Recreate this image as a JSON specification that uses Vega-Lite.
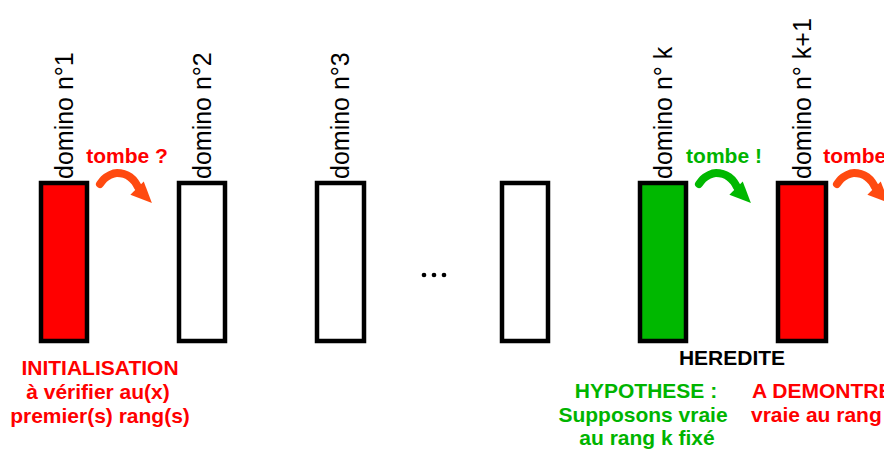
{
  "$schema": "https://vega.github.io/schema/vega-lite/v6.json",
  "width": 884,
  "height": 450,
  "padding": 0,
  "autosize": {"type": "none"},
  "background": "white",
  "config": {"view": {"stroke": null}, "font": "Liberation Sans"},
  "datasets": {
    "dominos": [
      {"nom": "domino n°1", "x0": 41, "x1": 87, "centre": 65, "statut": "initialisation"},
      {"nom": "domino n°2", "x0": 179, "x1": 225, "centre": 203, "statut": "neutre"},
      {"nom": "domino n°3", "x0": 317, "x1": 364, "centre": 341, "statut": "neutre"},
      {"nom": "", "x0": 502, "x1": 548, "centre": 525, "statut": "neutre"},
      {"nom": "domino n° k", "x0": 640, "x1": 686, "centre": 664, "statut": "hypothese"},
      {"nom": "domino n° k+1", "x0": 778, "x1": 826, "centre": 803, "statut": "a_demontrer"}
    ],
    "fleches": [
      {"fleche": 1, "ordre": 1, "x": 100, "y": 184, "etat": "inconnu"},
      {"fleche": 1, "ordre": 2, "x": 104, "y": 179, "etat": "inconnu"},
      {"fleche": 1, "ordre": 3, "x": 110, "y": 175, "etat": "inconnu"},
      {"fleche": 1, "ordre": 4, "x": 117, "y": 173, "etat": "inconnu"},
      {"fleche": 1, "ordre": 5, "x": 124, "y": 174, "etat": "inconnu"},
      {"fleche": 1, "ordre": 6, "x": 130, "y": 177, "etat": "inconnu"},
      {"fleche": 1, "ordre": 7, "x": 135, "y": 182, "etat": "inconnu"},
      {"fleche": 1, "ordre": 8, "x": 138, "y": 187, "etat": "inconnu"},
      {"fleche": 2, "ordre": 1, "x": 699, "y": 184, "etat": "tombe"},
      {"fleche": 2, "ordre": 2, "x": 703, "y": 179, "etat": "tombe"},
      {"fleche": 2, "ordre": 3, "x": 709, "y": 175, "etat": "tombe"},
      {"fleche": 2, "ordre": 4, "x": 716, "y": 173, "etat": "tombe"},
      {"fleche": 2, "ordre": 5, "x": 723, "y": 174, "etat": "tombe"},
      {"fleche": 2, "ordre": 6, "x": 729, "y": 177, "etat": "tombe"},
      {"fleche": 2, "ordre": 7, "x": 734, "y": 182, "etat": "tombe"},
      {"fleche": 2, "ordre": 8, "x": 737, "y": 187, "etat": "tombe"},
      {"fleche": 3, "ordre": 1, "x": 837, "y": 184, "etat": "inconnu"},
      {"fleche": 3, "ordre": 2, "x": 841, "y": 179, "etat": "inconnu"},
      {"fleche": 3, "ordre": 3, "x": 847, "y": 175, "etat": "inconnu"},
      {"fleche": 3, "ordre": 4, "x": 854, "y": 173, "etat": "inconnu"},
      {"fleche": 3, "ordre": 5, "x": 861, "y": 174, "etat": "inconnu"},
      {"fleche": 3, "ordre": 6, "x": 867, "y": 177, "etat": "inconnu"},
      {"fleche": 3, "ordre": 7, "x": 872, "y": 182, "etat": "inconnu"},
      {"fleche": 3, "ordre": 8, "x": 875, "y": 187, "etat": "inconnu"}
    ],
    "pointes": [
      {"fleche": 1, "x": 144.5, "y": 195.5, "etat": "inconnu"},
      {"fleche": 2, "x": 743.5, "y": 195.5, "etat": "tombe"},
      {"fleche": 3, "x": 881.5, "y": 195.5, "etat": "inconnu"}
    ],
    "chutes": [
      {"texte": "tombe ?", "x": 127, "etat": "inconnu"},
      {"texte": "tombe !", "x": 724, "etat": "tombe"},
      {"texte": "tombe ?", "x": 864, "etat": "inconnu"}
    ],
    "legendes": [
      {"texte": "INITIALISATION", "x": 100, "y": 375, "groupe": "initialisation"},
      {"texte": "à vérifier au(x)", "x": 98, "y": 399, "groupe": "initialisation"},
      {"texte": "premier(s) rang(s)", "x": 100, "y": 423, "groupe": "initialisation"},
      {"texte": "HEREDITE", "x": 732, "y": 365, "groupe": "titre"},
      {"texte": "HYPOTHESE :", "x": 646, "y": 398, "groupe": "hypothese"},
      {"texte": "Supposons vraie", "x": 643, "y": 422, "groupe": "hypothese"},
      {"texte": "au rang k fixé", "x": 647, "y": 445, "groupe": "hypothese"}
    ],
    "legendes_droite": [
      {"texte": "A DEMONTRER :", "x": 752, "y": 398, "groupe": "a_demontrer"},
      {"texte": "vraie au rang k+1", "x": 751, "y": 422, "groupe": "a_demontrer"}
    ],
    "points": [
      {"x": 424, "y": 275},
      {"x": 434, "y": 275},
      {"x": 444, "y": 275}
    ]
  },
  "resolve": {"scale": {"color": "independent", "fill": "independent"}},
  "layer": [
    {
      "data": {"name": "dominos"},
      "mark": {"type": "rect", "stroke": "#000000", "strokeWidth": 4.5},
      "encoding": {
        "x": {"field": "x0", "type": "quantitative", "scale": {"domain": [0, 884], "nice": false, "zero": false}, "axis": null},
        "x2": {"field": "x1"},
        "y": {"datum": 183, "type": "quantitative", "scale": {"domain": [0, 450], "nice": false, "zero": false, "reverse": true}, "axis": null},
        "y2": {"datum": 341},
        "fill": {"field": "statut", "type": "nominal", "scale": {"domain": ["initialisation", "neutre", "hypothese", "a_demontrer"], "range": ["#ff0000", "#ffffff", "#00b800", "#ff0000"]}, "legend": null}
      }
    },
    {
      "data": {"name": "dominos"},
      "transform": [{"filter": "datum.nom != ''"}],
      "mark": {"type": "text", "angle": 270, "align": "left", "baseline": "middle", "fontSize": 25, "color": "#000000"},
      "encoding": {
        "x": {"field": "centre", "type": "quantitative", "scale": {"domain": [0, 884], "nice": false, "zero": false}, "axis": null},
        "y": {"datum": 179, "type": "quantitative", "scale": {"domain": [0, 450], "nice": false, "zero": false, "reverse": true}, "axis": null},
        "text": {"field": "nom"}
      }
    },
    {
      "data": {"name": "fleches"},
      "mark": {"type": "line", "strokeWidth": 8, "strokeCap": "round", "interpolate": "monotone"},
      "encoding": {
        "x": {"field": "x", "type": "quantitative", "scale": {"domain": [0, 884], "nice": false, "zero": false}, "axis": null},
        "y": {"field": "y", "type": "quantitative", "scale": {"domain": [0, 450], "nice": false, "zero": false, "reverse": true}, "axis": null},
        "detail": {"field": "fleche"},
        "order": {"field": "ordre"},
        "color": {"field": "etat", "type": "nominal", "scale": {"domain": ["inconnu", "tombe"], "range": ["#ff4a10", "#00b800"]}, "legend": null}
      }
    },
    {
      "data": {"name": "pointes"},
      "mark": {"type": "point", "shape": "M0,-1L0.9,1L-0.9,1Z", "size": 441, "angle": 135, "filled": true, "opacity": 1, "strokeWidth": 0},
      "encoding": {
        "x": {"field": "x", "type": "quantitative", "scale": {"domain": [0, 884], "nice": false, "zero": false}, "axis": null},
        "y": {"field": "y", "type": "quantitative", "scale": {"domain": [0, 450], "nice": false, "zero": false, "reverse": true}, "axis": null},
        "color": {"field": "etat", "type": "nominal", "scale": {"domain": ["inconnu", "tombe"], "range": ["#ff4a10", "#00b800"]}, "legend": null}
      }
    },
    {
      "data": {"name": "chutes"},
      "mark": {"type": "text", "fontSize": 21, "fontWeight": "bold", "align": "center", "baseline": "alphabetic"},
      "encoding": {
        "x": {"field": "x", "type": "quantitative", "scale": {"domain": [0, 884], "nice": false, "zero": false}, "axis": null},
        "y": {"datum": 163, "type": "quantitative", "scale": {"domain": [0, 450], "nice": false, "zero": false, "reverse": true}, "axis": null},
        "text": {"field": "texte"},
        "color": {"field": "etat", "type": "nominal", "scale": {"domain": ["inconnu", "tombe"], "range": ["#ff0000", "#00b400"]}, "legend": null}
      }
    },
    {
      "data": {"name": "legendes"},
      "mark": {"type": "text", "fontSize": 21, "fontWeight": "bold", "align": "center", "baseline": "alphabetic"},
      "encoding": {
        "x": {"field": "x", "type": "quantitative", "scale": {"domain": [0, 884], "nice": false, "zero": false}, "axis": null},
        "y": {"field": "y", "type": "quantitative", "scale": {"domain": [0, 450], "nice": false, "zero": false, "reverse": true}, "axis": null},
        "text": {"field": "texte"},
        "color": {"field": "groupe", "type": "nominal", "scale": {"domain": ["initialisation", "titre", "hypothese", "a_demontrer"], "range": ["#ff0000", "#000000", "#00b400", "#ff0000"]}, "legend": null}
      }
    },
    {
      "data": {"name": "legendes_droite"},
      "mark": {"type": "text", "fontSize": 21, "fontWeight": "bold", "align": "left", "baseline": "alphabetic"},
      "encoding": {
        "x": {"field": "x", "type": "quantitative", "scale": {"domain": [0, 884], "nice": false, "zero": false}, "axis": null},
        "y": {"field": "y", "type": "quantitative", "scale": {"domain": [0, 450], "nice": false, "zero": false, "reverse": true}, "axis": null},
        "text": {"field": "texte"},
        "color": {"field": "groupe", "type": "nominal", "scale": {"domain": ["initialisation", "titre", "hypothese", "a_demontrer"], "range": ["#ff0000", "#000000", "#00b400", "#ff0000"]}, "legend": null}
      }
    },
    {
      "data": {"name": "points"},
      "mark": {"type": "point", "shape": "circle", "filled": true, "size": 22, "color": "#000000", "opacity": 1},
      "encoding": {
        "x": {"field": "x", "type": "quantitative", "scale": {"domain": [0, 884], "nice": false, "zero": false}, "axis": null},
        "y": {"field": "y", "type": "quantitative", "scale": {"domain": [0, 450], "nice": false, "zero": false, "reverse": true}, "axis": null}
      }
    }
  ]
}
